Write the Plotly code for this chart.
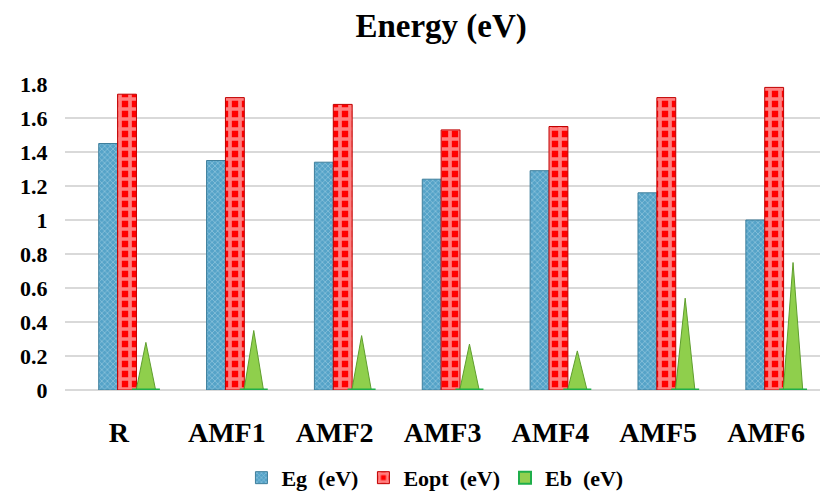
import plotly.graph_objects as go

categories = ["R", "AMF1", "AMF2", "AMF3", "AMF4", "AMF5", "AMF6"]
eg_values = [1.45, 1.35, 1.34, 1.24, 1.29, 1.16, 1.00]
eopt_values = [1.74, 1.72, 1.68, 1.53, 1.55, 1.72, 1.78]
eb_values = [0.28, 0.35, 0.32, 0.27, 0.23, 0.54, 0.75]
series_names = ["Eg\u00a0\u00a0(eV)", "Eopt\u00a0\u00a0(eV)", "Eb\u00a0\u00a0(eV)"]
y_ticks = [0, 0.2, 0.4, 0.6, 0.8, 1.0, 1.2, 1.4, 1.6, 1.8]

FONT = "Liberation Serif"
BAR_W = 0.175
OFF_EG, OFF_EOPT, OFF_EB = -0.10, 0.075, 0.25
CONE_HALF = 0.09

idx = list(range(len(categories)))

fig = go.Figure()

fig.add_trace(go.Bar(
    x=[i + OFF_EG for i in idx], y=eg_values, width=BAR_W, name="<b>%s</b>" % series_names[0],
    marker=dict(color="#55a3c8", line=dict(color="#3f7f9c", width=1),
                pattern=dict(shape="x", fgcolor="#d5ecf6", size=4, solidity=0.3)),
))
fig.add_trace(go.Bar(
    x=[i + OFF_EOPT for i in idx], y=eopt_values, width=BAR_W, name="<b>%s</b>" % series_names[1],
    marker=dict(color="#ff0000", line=dict(color="#c00000", width=1),
                pattern=dict(shape="+", fgcolor="#ffffff", bgcolor="#ff0000", size=10, solidity=0.6)),
))
# legend entry for Eb (square swatch)
fig.add_trace(go.Bar(
    x=[None], y=[None], name="<b>%s</b>" % series_names[2], legendgroup="eb",
    marker=dict(color="#92d050", line=dict(color="#1fae4a", width=2)),
))

# cones for Eb as triangles built from the data values
cx, cy = [], []
for i, v in zip(idx, eb_values):
    c = i + OFF_EB
    cx += [c - CONE_HALF, c, c + CONE_HALF, c - CONE_HALF, None]
    cy += [0, v, 0, 0, None]
fig.add_trace(go.Scatter(
    x=cx, y=cy, mode="lines", fill="toself", fillcolor="#8fcf4c",
    line=dict(color="#5f9e2e", width=1), legendgroup="eb", showlegend=False,
))
# base ellipses of cones
fig.add_trace(go.Scatter(
    x=[i + OFF_EB for i in idx], y=[0] * len(idx), mode="markers",
    marker=dict(symbol="line-ew", size=20, line=dict(color="#1fae4a", width=3)),
    showlegend=False, hoverinfo="skip", legendgroup="eb",
))

fig.update_layout(
    width=825, height=492,
    paper_bgcolor="white", plot_bgcolor="white",
    margin=dict(l=57, r=13, t=76, b=110, autoexpand=False),
    title=dict(text="<b>Energy (eV)</b>", x=0.525, xanchor="center", y=0.965, yanchor="middle",
               font=dict(family=FONT, size=33, color="black")),
    barmode="overlay",
    xaxis=dict(range=[-0.5, len(categories) - 0.5], tickmode="array", tickvals=idx,
               ticktext=["<b>%s</b>" % c for c in categories],
               tickfont=dict(family=FONT, size=28, color="black"),
               ticks="outside", ticklen=17, tickcolor="rgba(0,0,0,0)",
               showgrid=False, zeroline=False, showline=False, automargin=False),
    yaxis=dict(range=[0, 1.8], tickmode="array", tickvals=y_ticks,
               ticktext=["<b>%g</b>" % t for t in y_ticks],
               tickfont=dict(family=FONT, size=22, color="black"),
               ticks="outside", ticklen=12, tickcolor="rgba(0,0,0,0)",
               showgrid=True, gridcolor="#d9d9d9", gridwidth=2,
               zeroline=True, zerolinecolor="#d9d9d9", zerolinewidth=2, automargin=False),
    legend=dict(orientation="h", x=0.49, xanchor="center", yref="container", y=0.045, yanchor="middle",
                font=dict(family=FONT, size=22, color="black"), itemwidth=30,
                traceorder="normal"),
    showlegend=True,
)

fig.write_html("out.html")
